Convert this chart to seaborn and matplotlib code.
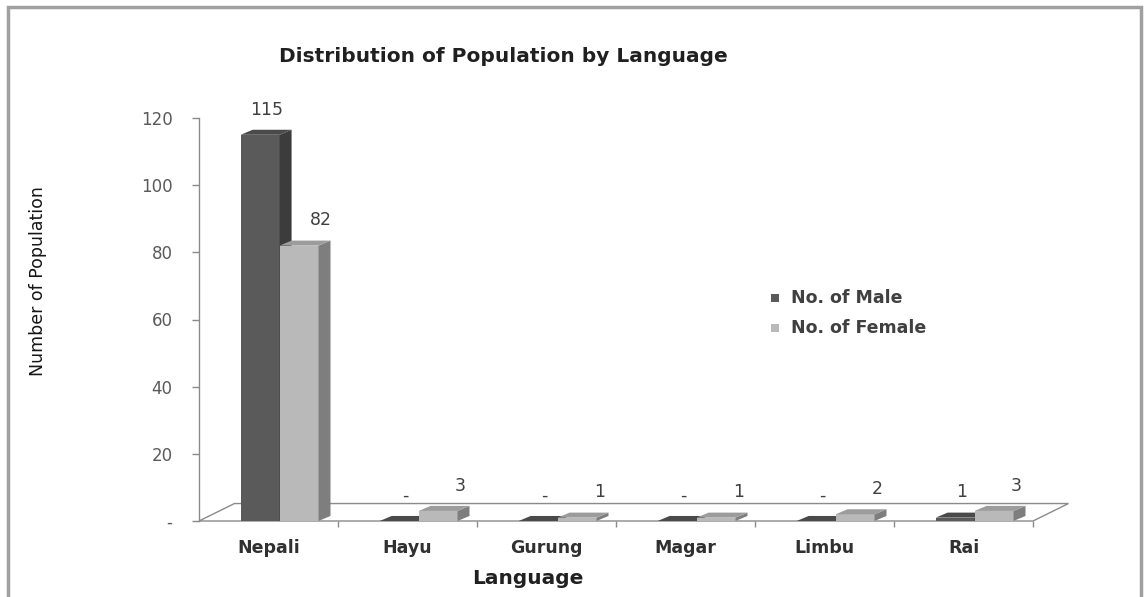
import matplotlib
matplotlib.use("Agg")
import matplotlib.pyplot as plt
from matplotlib.patches import Polygon, Rectangle
import seaborn as sns
import pandas as pd

languages = ["Nepali", "Hayu", "Gurung", "Magar", "Limbu", "Rai"]
male = [115, 0, 0, 0, 0, 1]
female = [82, 3, 1, 1, 2, 3]
series_names = ["No. of Male", "No. of Female"]
y_ticks = [0, 20, 40, 60, 80, 100, 120]
y_tick_labels = ["-", "20", "40", "60", "80", "100", "120"]

df = pd.DataFrame({
    "Language": languages * 2,
    "Count": male + female,
    "Series": [series_names[0]] * len(languages) + [series_names[1]] * len(languages),
})

sns.set_theme(style="white")
plt.rcParams["font.family"] = ["DejaVu Sans"]

front = {series_names[0]: "#5a5a5a", series_names[1]: "#b9b9b9"}
side = {series_names[0]: "#3c3c3c", series_names[1]: "#7e7e7e"}
top = {series_names[0]: "#4a4a4a", series_names[1]: "#9c9c9c"}

fig = plt.figure(figsize=(11.44, 5.97), dpi=100)
fig.patch.set_facecolor("white")
ax = fig.add_axes([199 / 1144, 1 - 521 / 597, (1033 - 199) / 1144, (521 - 118) / 597])
ax.set_facecolor("none")

sns.barplot(data=df, x="Language", y="Count", hue="Series", order=languages,
            hue_order=series_names, palette=front, width=0.56, dodge=True,
            saturation=1, legend=False, ax=ax, linewidth=0)

ax.set_xlim(-0.5, 5.5)
ax.set_ylim(0, 120)

# pseudo-3D depth offsets (category units, value units)
DX, DY = 0.086, 1.5
SHIFT = 0.08

bars = [q for q in ax.patches if isinstance(q, Rectangle)]

# floor of the chart
floor = Polygon([(-0.5, 0), (5.5, 0), (5.5 + 0.255, 5.2), (-0.5 + 0.255, 5.2)],
                closed=True, facecolor="white", edgecolor="#8a8a8a", lw=1.0,
                clip_on=False, zorder=1)
ax.add_patch(floor)

n = len(languages)
for i, p in enumerate(bars):
    s = series_names[0] if i < n else series_names[1]
    z = 3 if i < n else 4
    p.set_x(p.get_x() + SHIFT)
    p.set_zorder(z)
    p.set_clip_on(False)
    x0 = p.get_x()
    x1 = x0 + p.get_width()
    h = p.get_height()
    ax.add_patch(Polygon([(x1, 0), (x1 + DX, DY), (x1 + DX, h + DY), (x1, h)],
                         closed=True, facecolor=side[s], edgecolor="none",
                         zorder=z, clip_on=False))
    ax.add_patch(Polygon([(x0, h), (x0 + DX, h + DY), (x1 + DX, h + DY), (x1, h)],
                         closed=True, facecolor=top[s], edgecolor="none",
                         zorder=z, clip_on=False))
    cx = (x0 + x1) / 2
    lx = cx + DX / 2 if i < n else cx + 0.16
    label = "-" if h == 0 else f"{h:g}"
    ax.text(lx, h + 7.5, label, ha="center", va="center", fontsize=12.5,
            color="#404040", zorder=6)

# axes styling
for sp in ["top", "right", "bottom"]:
    ax.spines[sp].set_visible(False)
ax.spines["left"].set_color("#8a8a8a")
ax.spines["left"].set_linewidth(1.0)
ax.set_yticks(y_ticks)
ax.set_yticklabels(y_tick_labels, fontsize=12, color="#5a5a5a")
ax.tick_params(axis="y", direction="out", length=5, width=1, color="#8a8a8a",
               pad=14, left=True)
ax.set_xticks(range(n))
ax.set_xticklabels(languages, fontsize=12.5, fontweight="bold", color="#303030")
ax.set_xticks([k + 0.5 for k in range(n)], minor=True)
ax.tick_params(axis="x", which="major", length=0, pad=13)
ax.tick_params(axis="x", which="minor", direction="out", length=4, width=1,
               color="#8a8a8a", bottom=True)
ax.set_xlabel("")
ax.set_ylabel("")

fig.text(528 / 1144, 1 - 578 / 597, "Language", ha="center", va="center",
         fontsize=14.5, fontweight="bold", color="#202020")
fig.text(38 / 1144, 1 - 281 / 597, "Number of Population", rotation=90,
         ha="center", va="center", fontsize=12.5, color="#151515",
         family=["Liberation Sans Narrow", "DejaVu Sans Condensed", "DejaVu Sans"])
fig.text(503 / 1144, 1 - 57 / 597, "Distribution of Population by Language",
         ha="center", va="center", fontsize=14.5, fontweight="bold", color="#202020")

# legend
for k, name in enumerate(series_names):
    yy = 1 - (298 + 30 * k) / 597
    fig.patches.append(Rectangle((771 / 1144, yy - 4 / 597), 8 / 1144, 8 / 597,
                                 transform=fig.transFigure, facecolor=front[name],
                                 edgecolor="none"))
    fig.text(791 / 1144, yy, name, ha="left", va="center", fontsize=12.5,
             fontweight="bold", color="#404040")

# outer chart border
fig.patches.append(Rectangle((8 / 1144, -0.05), (1141 - 8) / 1144, 1.05 - 7 / 597,
                             transform=fig.transFigure, facecolor="none",
                             edgecolor="#a0a0a0", lw=2.5))

fig.savefig("out.png", dpi=100)
